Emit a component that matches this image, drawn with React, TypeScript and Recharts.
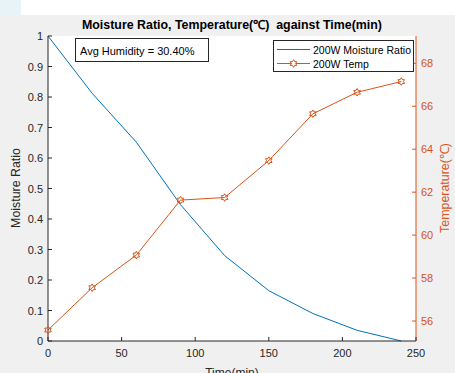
import { ComposedChart, Line, XAxis, YAxis } from 'recharts';

const timeMin = [0, 30, 60, 90, 120, 150, 180, 210, 240];
const moistureRatio = [1.0, 0.812, 0.652, 0.447, 0.28, 0.165, 0.09, 0.035, 0.0];
const tempC = [55.58, 57.55, 59.07, 61.63, 61.75, 63.47, 65.65, 66.65, 67.15];

const xTicks = [0, 50, 100, 150, 200, 250];
const mrTicks = [0, 0.1, 0.2, 0.3, 0.4, 0.5, 0.6, 0.7, 0.8, 0.9, 1];
const tempTicks = [56, 58, 60, 62, 64, 66, 68];

const data = timeMin.map((t, i) => ({ t, mr: moistureRatio[i], temp: tempC[i] }));

const FONT = '"Liberation Sans", Arial, Helvetica, sans-serif';
const AXIS = '#262626';
const BLUE = '#0072BD';
const ORANGE = '#D95319';

function BottomTick({ x, y, payload }: any) {
  return (
    <g>
      <line x1={x} y1={y} x2={x} y2={y - 4} stroke={AXIS} />
      <text x={x} y={y + 12} textAnchor="middle" dominantBaseline="central" fontSize={11} fontFamily={FONT} fill={AXIS}>
        {payload.value}
      </text>
    </g>
  );
}

function TopTick({ x, y }: any) {
  return <line x1={x} y1={y} x2={x} y2={y + 4} stroke={AXIS} />;
}

function LeftTick({ x, y, payload }: any) {
  return (
    <g>
      <line x1={x} y1={y} x2={x + 4} y2={y} stroke={AXIS} />
      <text x={x - 5} y={y} textAnchor="end" dominantBaseline="central" fontSize={11} fontFamily={FONT} fill={AXIS}>
        {String(Number(payload.value.toFixed(1)))}
      </text>
    </g>
  );
}

function RightTick({ x, y, payload }: any) {
  return (
    <g>
      <line x1={x} y1={y} x2={x - 4} y2={y} stroke={ORANGE} />
      <text x={x + 5} y={y} textAnchor="start" dominantBaseline="central" fontSize={11} fontFamily={FONT} fill={ORANGE}>
        {payload.value}
      </text>
    </g>
  );
}

// hexagram marker like MATLAB 'h'
function hexPath(cx: number, cy: number, r: number) {
  const pts: string[] = [];
  for (let i = 0; i < 12; i++) {
    const a = (Math.PI / 6) * i - Math.PI / 2;
    const rr = i % 2 === 0 ? r : r * 0.58;
    pts.push(`${(cx + rr * Math.cos(a)).toFixed(2)},${(cy + rr * Math.sin(a)).toFixed(2)}`);
  }
  return `M${pts.join('L')}Z`;
}

function HexDot({ cx, cy }: any) {
  if (cx == null || cy == null) return null;
  return <path d={hexPath(cx, cy, 3.8)} fill="none" stroke={ORANGE} strokeWidth={1} />;
}

export default function App() {
  return (
    <div style={{ position: 'absolute', left: 0, top: 0, width: 455, height: 373, background: '#f0f0f0', overflow: 'hidden' }}>
      <div style={{ position: 'absolute', left: 0, top: 0, width: 455, height: 15, background: '#ffffff' }} />
      <div style={{ position: 'absolute', left: 0, top: 0, width: 21, height: 15, background: '#e8f3f8' }} />
      <svg width={455} height={373} style={{ position: 'absolute', left: 0, top: 0 }}>
        <rect x={48} y={36} width={368} height={305} fill="#ffffff" />
      </svg>
      <div style={{ position: 'absolute', left: 0, top: 0 }}>
        <ComposedChart width={455} height={373} data={data} margin={{ top: 36, right: 0, bottom: 0, left: 0 }}>
          <XAxis
            xAxisId="main"
            dataKey="t"
            type="number"
            domain={[0, 250]}
            ticks={xTicks}
            height={32}
            tickSize={0}
            tickMargin={0}
            tickLine={false}
            axisLine={{ stroke: AXIS }}
            tick={<BottomTick />}
            interval={0}
          />
          <XAxis
            xAxisId="top"
            orientation="top"
            dataKey="t"
            type="number"
            domain={[0, 250]}
            ticks={xTicks}
            height={0}
            tickSize={0}
            tickMargin={0}
            tickLine={false}
            axisLine={{ stroke: AXIS }}
            tick={<TopTick />}
            interval={0}
          />
          <YAxis
            yAxisId="mr"
            orientation="left"
            type="number"
            domain={[0, 1]}
            ticks={mrTicks}
            width={48}
            tickSize={0}
            tickMargin={0}
            tickLine={false}
            axisLine={{ stroke: AXIS }}
            tick={<LeftTick />}
            interval={0}
          />
          <YAxis
            yAxisId="temp"
            orientation="right"
            type="number"
            domain={[55.07, 69.27]}
            ticks={tempTicks}
            width={39}
            tickSize={0}
            tickMargin={0}
            tickLine={false}
            axisLine={{ stroke: ORANGE }}
            tick={<RightTick />}
            interval={0}
            allowDataOverflow
          />
          <Line
            xAxisId="main"
            yAxisId="mr"
            dataKey="mr"
            type="linear"
            stroke={BLUE}
            strokeWidth={1}
            dot={false}
            isAnimationActive={false}
          />
          <Line
            xAxisId="main"
            yAxisId="temp"
            dataKey="temp"
            type="linear"
            stroke={ORANGE}
            strokeWidth={1}
            dot={<HexDot />}
            isAnimationActive={false}
          />
        </ComposedChart>
      </div>
      <svg width={455} height={373} style={{ position: 'absolute', left: 0, top: 0, pointerEvents: 'none' }}>
        <text x={232} y={25} textAnchor="middle" dominantBaseline="central" fontSize={12.4} fontWeight="bold" fontFamily={FONT} fill="#000" style={{ whiteSpace: 'pre' }}>
          {'Moisture Ratio, Temperature(℃)  against Time(min)'}
        </text>
        <text x={232} y={373} textAnchor="middle" dominantBaseline="central" fontSize={12} fontFamily={FONT} fill={AXIS}>
          Time(min)
        </text>
        <text x={16} y={188} transform="rotate(-90 16 188)" textAnchor="middle" dominantBaseline="central" fontSize={12.4} fontFamily={FONT} fill={AXIS}>
          Moisture Ratio
        </text>
        <text x={445} y={188} transform="rotate(-90 445 188)" textAnchor="middle" dominantBaseline="central" fontSize={12.4} fontFamily={FONT} fill={ORANGE}>
          Temperature(℃)
        </text>
        <rect x={75.5} y={38.5} width={133} height={23} fill="#ffffff" stroke={AXIS} strokeWidth={1} />
        <text x={80} y={50.5} dominantBaseline="central" fontSize={11} fontFamily={FONT} fill="#000">
          Avg Humidity = 30.40%
        </text>
        <rect x={273.5} y={40.5} width={140} height={31} fill="#ffffff" stroke={AXIS} strokeWidth={1} />
        <line x1={277} y1={49.5} x2={310} y2={49.5} stroke={BLUE} strokeWidth={1} />
        <text x={313} y={49.5} dominantBaseline="central" fontSize={10.5} fontFamily={FONT} fill="#000">
          200W Moisture Ratio
        </text>
        <line x1={277} y1={63.5} x2={310} y2={63.5} stroke={ORANGE} strokeWidth={1} />
        <path d={hexPath(293.5, 63.5, 3.8)} fill="#ffffff" stroke={ORANGE} strokeWidth={1} />
        <text x={313} y={63.5} dominantBaseline="central" fontSize={10.5} fontFamily={FONT} fill="#000">
          200W Temp
        </text>
      </svg>
    </div>
  );
}
